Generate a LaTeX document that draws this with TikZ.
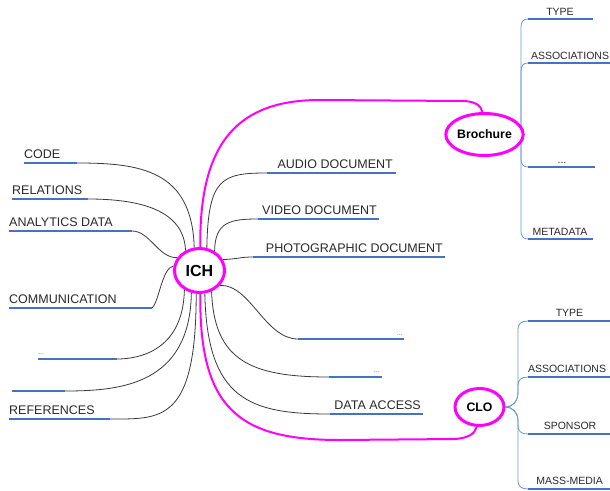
\documentclass[tikz,border=0pt]{standalone}
\usepackage{fontspec}
\setmainfont{Liberation Sans}
\usetikzlibrary{shapes.geometric}
\pgfdeclarelayer{bg}
\pgfsetlayers{bg,main}
\definecolor{mag}{RGB}{255,0,255}
\definecolor{ulblue}{HTML}{4472C4}
\definecolor{brblue}{HTML}{6B98D8}
\definecolor{txt}{HTML}{2A2A2A}
\definecolor{connc}{HTML}{3A3A3A}
\begin{document}
\begin{tikzpicture}[x=1pt,y=-1pt,
  hub/.style={ellipse,draw=mag,line width=3pt,fill=white,inner sep=0pt,text=black},
  lbl/.style={inner sep=0pt,text=txt,font=\fontsize{12.5}{14}\selectfont},
  sublbl/.style={inner sep=0pt,text=txt,font=\fontsize{10.5}{12}\selectfont},
  dotlbl/.style={inner sep=0pt,text=txt!70,font=\fontsize{7}{8}\selectfont},
  uline/.style={draw=ulblue,line width=2.6pt},
  conn/.style={draw=connc,line width=0.8pt},
  mconn/.style={draw=mag,line width=2pt},
  bconn/.style={draw=brblue,line width=0.8pt}]
\useasboundingbox (0,0) rectangle (610,490);

% hubs
\node[hub,minimum width=50pt,minimum height=44pt,font=\bfseries\fontsize{16}{18}\selectfont] (ich) at (199.5,270.5) {ICH};
\node[hub,minimum width=60pt,minimum height=42pt,font=\bfseries\fontsize{12.3}{14}\selectfont] (bro) at (484.5,134.5) {Brochure};
\node[hub,minimum width=49pt,minimum height=37pt,font=\bfseries\fontsize{12.3}{14}\selectfont] (clo) at (479.5,407) {CLO};

% left leaves
\coordinate (codeA) at (24,163);  \coordinate (codeB) at (77,163);
\coordinate (relA) at (12,199);   \coordinate (relB) at (88,199);
\coordinate (anaA) at (9,231);    \coordinate (anaB) at (132,231);
\coordinate (comA) at (9,308);    \coordinate (comB) at (152,308);
\coordinate (ldA) at (38,359);    \coordinate (ldB) at (117,359);
\coordinate (blA) at (12,391);    \coordinate (blB) at (65,391);
\coordinate (refA) at (9,419);    \coordinate (refB) at (110,419);
\foreach \n in {code,rel,ana,com,ld,bl,ref} {\draw[uline] (\n A) -- (\n B);}
\node[lbl,anchor=base west] (code) at (24,158) {CODE};
\node[lbl,anchor=base west] (rel) at (12,194) {RELATIONS};
\node[lbl,anchor=base west] (ana) at (9,226) {ANALYTICS DATA};
\node[lbl,anchor=base west] (com) at (9,303) {COMMUNICATION};
\node[dotlbl,anchor=base west] (ld) at (38,354) {...};
\node[lbl,anchor=base west] (ref) at (9,414) {REFERENCES};

% right leaves
\coordinate (audA) at (267,173);  \coordinate (audB) at (396,173);
\coordinate (vidA) at (258,219);  \coordinate (vidB) at (379,219);
\coordinate (phoA) at (253,257);  \coordinate (phoB) at (445,257);
\coordinate (rdaA) at (298,339);  \coordinate (rdaB) at (404,339);
\coordinate (rdbA) at (329,377);  \coordinate (rdbB) at (382,377);
\coordinate (dacA) at (330,414);  \coordinate (dacB) at (423,414);
\foreach \n in {aud,vid,pho,rda,rdb,dac} {\draw[uline] (\n A) -- (\n B);}
\node[lbl,anchor=base east] (aud) at (393,168) {AUDIO DOCUMENT};
\node[lbl,anchor=base east] (vid) at (377,214) {VIDEO DOCUMENT};
\node[lbl,anchor=base east] (pho) at (443,252) {PHOTOGRAPHIC DOCUMENT};
\node[dotlbl,anchor=base east] (rda) at (403,335) {...};
\node[dotlbl,anchor=base east] (rdb) at (380,372) {...};
\node[lbl,anchor=base east] (dac) at (421,409) {DATA ACCESS};

% brochure leaves
\coordinate (btA) at (528,19);   \coordinate (btB) at (593,19);
\coordinate (baA) at (528,63);   \coordinate (baB) at (611,63);
\coordinate (bdA) at (528,167);  \coordinate (bdB) at (595,167);
\coordinate (bmA) at (528,239);  \coordinate (bmB) at (593,239);
\foreach \n in {bt,ba,bd,bm} {\draw[uline] (\n A) -- (\n B);}
\node[sublbl,anchor=base] (bt) at (560,15) {TYPE};
\node[sublbl,anchor=base] (ba) at (570,59) {ASSOCIATIONS};
\node[sublbl,anchor=base] (bd) at (562,163) {...};
\node[sublbl,anchor=base] (bm) at (560,235) {METADATA};

% CLO leaves
\coordinate (ctA) at (528,321);  \coordinate (ctB) at (611,321);
\coordinate (caA) at (528,377);  \coordinate (caB) at (611,377);
\coordinate (csA) at (528,434);  \coordinate (csB) at (611,434);
\coordinate (cmA) at (528,489);  \coordinate (cmB) at (611,489);
\foreach \n in {ct,ca,cs,cm} {\draw[uline] (\n A) -- (\n B);}
\node[sublbl,anchor=base] (ct) at (569.5,316) {TYPE};
\node[sublbl,anchor=base] (ca) at (567,372) {ASSOCIATIONS};
\node[sublbl,anchor=base] (cs) at (570,429) {SPONSOR};
\node[sublbl,anchor=base] (cm) at (569.5,484) {MASS-MEDIA};

\begin{pgfonlayer}{bg}
\fill[white] (0,0) rectangle (610,490);
% ICH left connectors
\draw[conn] (ich.103) .. controls (192,170) and (140,163) .. (codeB);
\draw[conn] (ich.125) .. controls (184,210) and (140,199) .. (relB);
\draw[conn] (ich.150) .. controls (158,258) and (150,231) .. (anaB);
\draw[conn] (ich.170) .. controls (162,268) and (159,302) .. (comB);
\draw[conn] (ich.232) .. controls (183,350) and (140,359) .. (ldB);
\draw[conn] (ich.250) .. controls (190,385) and (120,391) .. (blB);
\draw[conn] (ich.262) .. controls (196,422) and (162,419) .. (refB);
% ICH right connectors
\draw[conn] (ich.72) .. controls (208,178) and (222,173) .. (audA);
\draw[conn] (ich.52) .. controls (215,222) and (230,219) .. (vidA);
\draw[conn] (ich.25) .. controls (238,259) and (240,257) .. (phoA);
\draw[conn] (ich.324) .. controls (250,284) and (265,339) .. (rdaA);
\draw[conn] (ich.300) .. controls (214,360) and (250,377) .. (rdbA);
\draw[conn] (ich.283) .. controls (207,400) and (250,414) .. (dacA);
% magenta links
\draw[mconn] (ich.88) .. controls (199,140) and (240,100) .. (320,100)
  -- (462,101) .. controls (474,101) and (481,105) .. (bro.95);
\draw[mconn] (ich.272) .. controls (199,410) and (240,440) .. (340,440)
  -- (455,439) .. controls (468,438) and (475,434) .. (clo.262);
% brochure branches
\draw[bconn] (bro.east) .. controls (519,134) and (521,130) .. (521,122) -- (521,27) .. controls (521,22) and (523,19) .. (btA);
\draw[bconn] (bro.east) .. controls (519,134) and (521,130) .. (521,122) -- (521,71) .. controls (521,66) and (523,63) .. (baA);
\draw[bconn] (bro.east) .. controls (519,135) and (521,139) .. (521,147) -- (521,159) .. controls (521,164) and (523,167) .. (bdA);
\draw[bconn] (bro.east) .. controls (519,135) and (521,139) .. (521,147) -- (521,231) .. controls (521,236) and (523,239) .. (bmA);
% CLO branches
\draw[bconn] (clo.east) .. controls (512,407) and (518,402) .. (518,392) -- (518,329) .. controls (518,324) and (521,321) .. (ctA);
\draw[bconn] (clo.east) .. controls (512,407) and (518,402) .. (518,392) -- (518,385) .. controls (518,380) and (521,377) .. (caA);
\draw[bconn] (clo.east) .. controls (512,407) and (518,412) .. (518,420) -- (518,426) .. controls (518,431) and (521,434) .. (csA);
\draw[bconn] (clo.east) .. controls (512,407) and (518,412) .. (518,422) -- (518,481) .. controls (518,486) and (521,489) .. (cmA);
\end{pgfonlayer}
\end{tikzpicture}
\end{document}
